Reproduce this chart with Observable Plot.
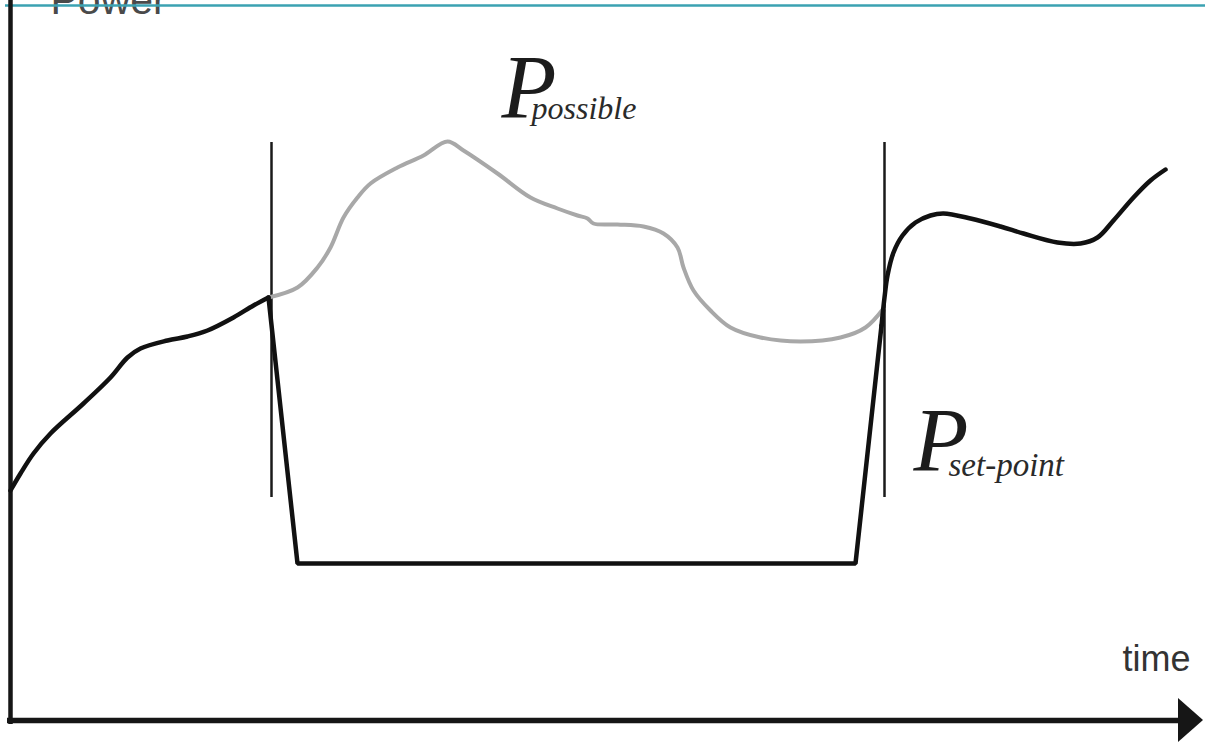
<!DOCTYPE html>
<html>
<head>
<meta charset="utf-8">
<script src="https://cdn.jsdelivr.net/npm/d3@7"></script>
<script src="https://cdn.jsdelivr.net/npm/@observablehq/plot@0.6"></script>
<style>
  html, body { margin: 0; padding: 0; background: #fff; overflow: hidden; }
  #chart svg { display: block; }
</style>
</head>
<body>
<div id="chart"></div>
<script>
// Schematic curtailment chart: time (arbitrary units) vs power (arbitrary units)

// Actual power before curtailment (smooth black)
const beforeTime  = [0, 10, 23, 40, 73, 100, 117, 130, 157, 177, 197, 223, 243, 258];
const beforePower = [230, 247, 267, 287, 317, 343, 363, 372, 380, 384, 390, 403, 415, 423];

// Set-point during curtailment (straight black segments)
const setTime  = [258, 287, 845, 871];
const setPower = [423, 157, 157, 395];

// Actual power after curtailment (smooth black)
const afterTime  = [871, 874, 877, 883, 892, 905, 920, 933, 960, 990, 1013, 1047, 1070, 1087, 1103, 1123, 1140, 1155];
const afterPower = [395, 423, 445, 468, 485, 498, 505, 507, 502, 494, 487, 478, 477, 483, 500, 523, 540, 551];

// Possible power during curtailment (grey)
const possibleTime  = [258, 287, 307, 320, 333, 347, 360, 387, 413, 437, 453, 487, 520, 547, 567, 577, 583, 607, 633, 653, 667, 673, 683, 700, 720, 750, 790, 830, 855, 873];
const possiblePower = [423, 433, 453, 473, 503, 523, 537, 553, 565, 579, 570, 547, 523, 512, 505, 502, 497, 496, 494, 487, 473, 453, 430, 410, 393, 383, 379, 383, 393, 412];

// Curtailment start / end markers
const markerTimes = [261, 874];
const markerRange = [223, 578];

// Axis extents and arrow head
const axisTimeRange  = [-3, 1172];
const axisPowerRange = [-4, 730];
const arrowTime = [1168, 1193];
const arrowHalf = [22, 0];

// Top frame line
const frameTime = [-5, 1195];
const framePower = 715;

// Labels
const labels = [
  {t: 40,   p: 707, text: "Power",     size: 41, family: "Liberation Sans", style: "normal", fill: "#4a4a4a"},
  {t: 1112, p: 50,  text: "time",      size: 36, family: "Liberation Sans", style: "normal", fill: "#333333"},
  {t: 491,  p: 603, text: "P",         size: 90, family: "Liberation Serif", style: "italic", fill: "#1c1c1c"},
  {t: 521,  p: 602, text: "possible",  size: 32, family: "Liberation Serif", style: "italic", fill: "#2a2a2a"},
  {t: 903,  p: 250, text: "P",         size: 90, family: "Liberation Serif", style: "italic", fill: "#1c1c1c"},
  {t: 938,  p: 245, text: "set-point", size: 33, family: "Liberation Serif", style: "italic", fill: "#2a2a2a"}
];

const zip = (ts, ps) => ts.map((t, i) => ({t, p: ps[i]}));
const before = zip(beforeTime, beforePower);
const setpoint = zip(setTime, setPower);
const after = zip(afterTime, afterPower);
const possible = zip(possibleTime, possiblePower);
const markers = markerTimes.map(t => ({t, p1: markerRange[0], p2: markerRange[1]}));
const arrow = arrowTime.map((t, i) => ({t, lo: -arrowHalf[i], hi: arrowHalf[i]}));

const textMarks = labels.map(d => Plot.text([d], {
  x: "t", y: "p", text: "text",
  fontSize: d.size, fontFamily: d.family, fontStyle: d.style,
  fill: d.fill, textAnchor: "start", lineAnchor: "bottom"
}));

const chart = Plot.plot({
  width: 1205,
  height: 744,
  margin: 0,
  x: {domain: [0, 1193], range: [10, 1203], axis: null},
  y: {domain: [0, 720], range: [720, 0], axis: null},
  style: {background: "#fff"},
  marks: [
    // labels (Power is drawn under the frame line)
    ...textMarks,
    // top frame line
    Plot.ruleY([framePower], {x1: frameTime[0], x2: frameTime[1], stroke: "#3ba2b2", strokeWidth: 2.5}),
    // axes
    Plot.ruleX([0], {y1: axisPowerRange[0], y2: axisPowerRange[1], stroke: "#161616", strokeWidth: 4.5}),
    Plot.ruleY([0], {x1: axisTimeRange[0], x2: axisTimeRange[1], stroke: "#161616", strokeWidth: 5.5}),
    Plot.areaY(arrow, {x: "t", y1: "lo", y2: "hi", fill: "#161616"}),
    // markers
    Plot.ruleX(markers, {x: "t", y1: "p1", y2: "p2", stroke: "#1a1a1a", strokeWidth: 2.5}),
    // possible power
    Plot.line(possible, {x: "t", y: "p", stroke: "#a8a8a8", strokeWidth: 4, curve: "catmull-rom"}),
    // actual power
    Plot.line(before, {x: "t", y: "p", stroke: "#111", strokeWidth: 4.5, curve: "catmull-rom"}),
    Plot.line(setpoint, {x: "t", y: "p", stroke: "#111", strokeWidth: 4.5, strokeLinejoin: "miter"}),
    Plot.line(after, {x: "t", y: "p", stroke: "#111", strokeWidth: 4.5, curve: "catmull-rom"})
  ]
});

document.getElementById("chart").appendChild(chart);
</script>
</body>
</html>
